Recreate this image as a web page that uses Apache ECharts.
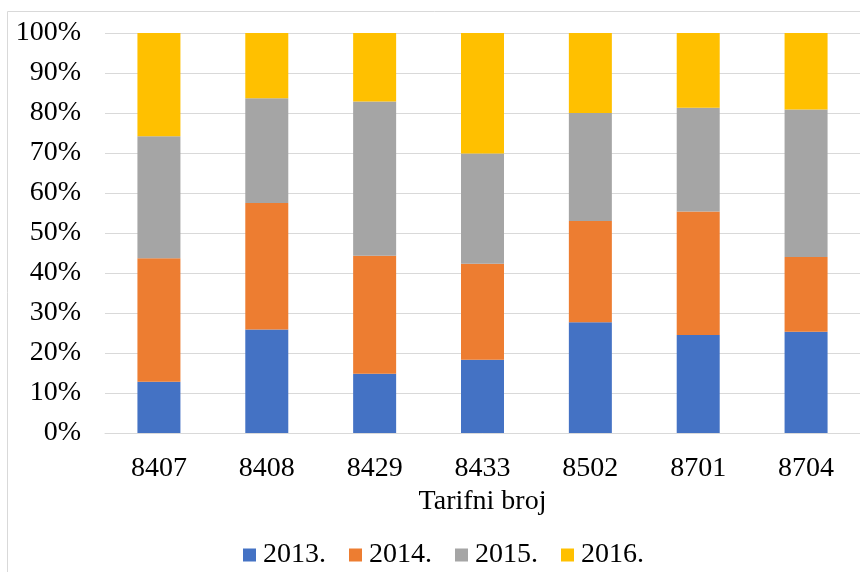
<!DOCTYPE html>
<html>
<head>
<meta charset="utf-8">
<script src="https://cdn.jsdelivr.net/npm/echarts@6/dist/echarts.min.js"></script>
<style>html,body{margin:0;padding:0;background:#fff}#c{width:860px;height:572px}</style>
</head>
<body>
<div id="c"></div>
<script>
const categories = ['8407','8408','8429','8433','8502','8701','8704'];
const seriesNames = ['2013.','2014.','2015.','2016.'];
const s2013 = [12.8, 25.9, 14.8, 18.3, 27.7, 24.5, 25.3];
const s2014 = [30.9, 31.6, 29.5, 24.0, 25.3, 30.9, 18.7];
const s2015 = [30.5, 26.2, 38.6, 27.6, 27.0, 25.9, 36.9];
const s2016 = [25.8, 16.3, 17.1, 30.1, 20.0, 18.7, 19.1];
const colors = ['#4472C4','#ED7D31','#A5A5A5','#FFC000'];

const font = 'Liberation Serif';
const fs = 28;
const chart = echarts.init(document.getElementById('c'));
const data = [s2013, s2014, s2015, s2016];
chart.setOption({
  animation: false,
  textStyle: {fontFamily: font},
  graphic: [{
    type: 'rect', silent: true, z: -10,
    shape: {x: 7.5, y: 11.5, width: 900, height: 600},
    style: {fill: null, stroke: '#d9d9d9', lineWidth: 1}
  }],
  grid: {left: 105, right: 0, top: 33, bottom: 139},
  legend: {
    left: 238, top: 536,
    itemWidth: 13, itemHeight: 13, itemGap: 23,
    icon: 'rect',
    textStyle: {fontFamily: font, fontSize: fs, color: '#000', padding: [0,0,0,2]},
    data: seriesNames
  },
  xAxis: {
    type: 'category',
    data: categories,
    name: 'Tarifni broj',
    nameLocation: 'middle',
    nameGap: 54,
    nameTextStyle: {fontFamily: font, fontSize: fs, color: '#000'},
    axisLine: {lineStyle: {color: '#d9d9d9'}},
    axisTick: {show: false},
    axisLabel: {fontFamily: font, fontSize: fs, color: '#000', margin: 22}
  },
  yAxis: {
    type: 'value',
    min: 0, max: 100, interval: 10,
    axisLabel: {fontFamily: font, fontSize: fs, color: '#000', margin: 24, formatter: '{value}%'},
    splitLine: {lineStyle: {color: '#d9d9d9', width: 1}},
    axisLine: {show: false},
    axisTick: {show: false}
  },
  series: seriesNames.map((n, i) => ({
    name: n,
    type: 'bar',
    stack: 'total',
    barWidth: 43,
    data: data[i],
    itemStyle: {color: colors[i]}
  }))
});
</script>
</body>
</html>
